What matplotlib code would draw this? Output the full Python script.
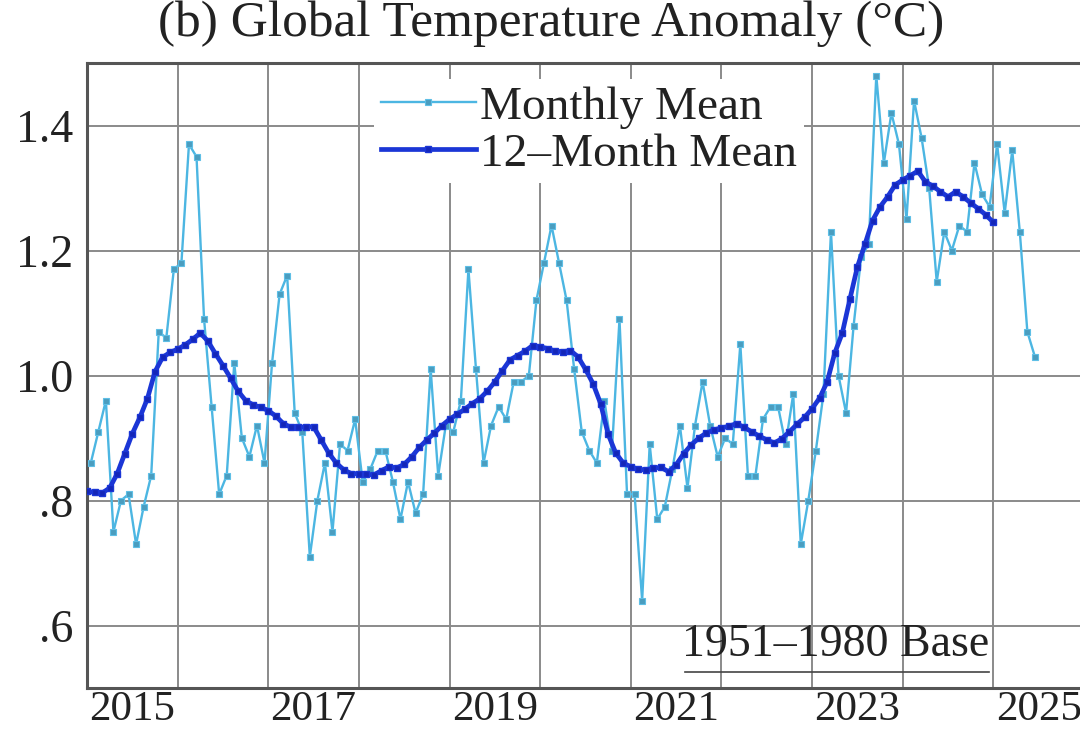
import numpy as np
import matplotlib
matplotlib.use('Agg')
import matplotlib.pyplot as plt

# Monthly global temperature anomaly (1951-1980 base), Jan 2015 - Jun 2025
monthly = [
    0.86, 0.91, 0.96, 0.75, 0.80, 0.81, 0.73, 0.79, 0.84, 1.07, 1.06, 1.17,   # 2015
    1.18, 1.37, 1.35, 1.09, 0.95, 0.81, 0.84, 1.02, 0.90, 0.87, 0.92, 0.86,   # 2016
    1.02, 1.13, 1.16, 0.94, 0.91, 0.71, 0.80, 0.86, 0.75, 0.89, 0.88, 0.93,   # 2017
    0.83, 0.85, 0.88, 0.88, 0.83, 0.77, 0.83, 0.78, 0.81, 1.01, 0.84, 0.92,   # 2018
    0.91, 0.96, 1.17, 1.01, 0.86, 0.92, 0.95, 0.93, 0.99, 0.99, 1.00, 1.12,   # 2019
    1.18, 1.24, 1.18, 1.12, 1.01, 0.91, 0.88, 0.86, 0.96, 0.88, 1.09, 0.81,   # 2020
    0.81, 0.64, 0.89, 0.77, 0.79, 0.85, 0.92, 0.82, 0.92, 0.99, 0.92, 0.87,   # 2021
    0.90, 0.89, 1.05, 0.84, 0.84, 0.93, 0.95, 0.95, 0.89, 0.97, 0.73, 0.80,   # 2022
    0.88, 0.97, 1.23, 1.00, 0.94, 1.08, 1.19, 1.21, 1.48, 1.34, 1.42, 1.37,   # 2023
    1.25, 1.44, 1.38, 1.30, 1.15, 1.23, 1.20, 1.24, 1.23, 1.34, 1.29, 1.27,   # 2024
    1.37, 1.26, 1.36, 1.23, 1.07, 1.03,                                       # 2025
]

# 12-month running mean, centred, Jan 2015 - Jan 2025
mean12 = [
    0.815, 0.813, 0.812, 0.820, 0.843, 0.875, 0.907, 0.933, 0.963, 1.006, 1.029, 1.037,
    1.042, 1.049, 1.058, 1.068, 1.055, 1.035, 1.016, 0.996, 0.975, 0.960, 0.953, 0.949,
    0.944, 0.935, 0.923, 0.917, 0.917, 0.918, 0.918, 0.897, 0.876, 0.860, 0.849, 0.843,
    0.843, 0.842, 0.841, 0.848, 0.854, 0.852, 0.858, 0.870, 0.885, 0.897, 0.908, 0.920,
    0.930, 0.938, 0.946, 0.955, 0.963, 0.975, 0.990, 1.008, 1.025, 1.032, 1.039, 1.048,
    1.046, 1.043, 1.039, 1.038, 1.040, 1.030, 1.010, 0.987, 0.955, 0.906, 0.876, 0.860,
    0.854, 0.850, 0.849, 0.852, 0.853, 0.846, 0.857, 0.875, 0.889, 0.900, 0.908, 0.913,
    0.916, 0.919, 0.923, 0.917, 0.910, 0.903, 0.897, 0.892, 0.899, 0.910, 0.922, 0.933,
    0.947, 0.964, 0.990, 1.036, 1.068, 1.122, 1.174, 1.210, 1.248, 1.270, 1.286, 1.305,
    1.313, 1.320, 1.327, 1.310, 1.303, 1.294, 1.286, 1.294, 1.286, 1.276, 1.267, 1.257,
    1.245,
]

start_year = 2015
year_labels = ['2015', '2017', '2019', '2021', '2023', '2025']
y_ticks = [0.6, 0.8, 1.0, 1.2, 1.4]
y_labels = ['.6', '.8', '1.0', '1.2', '1.4']

t_monthly = start_year + (np.arange(len(monthly)) + 0.5) / 12
t_mean = start_year + np.arange(len(mean12)) / 12

plt.rcParams['font.family'] = ['Liberation Serif', 'DejaVu Serif']

fig = plt.figure(figsize=(10.8, 7.35), dpi=100)
ax = fig.add_axes([87 / 1080, 1 - 688 / 735, (1084 - 87) / 1080, (688 - 63) / 735])

ax.plot(t_monthly, monthly, color='#4cb6e2', linewidth=1.7, marker='s', markersize=4.8,
        markerfacecolor='#4a9dbf', markeredgecolor='#5ebfe6', markeredgewidth=0.8,
        label='Monthly Mean', zorder=3)
ax.plot(t_mean, mean12, color='#1b36d6', linewidth=3.4, marker='s', markersize=4.8,
        markerfacecolor='#1426b8', markeredgecolor='#1b36d6',
        label='12\u2013Month Mean', zorder=4)

ax.set_xlim(2015, 2026)
ax.set_ylim(0.5, 1.5)

ax.set_xticks(np.arange(2015, 2027))
ax.set_xticklabels([])
ax.set_xticks([int(y) + 0.5 for y in year_labels], minor=True)
ax.set_xticklabels(year_labels, minor=True)
ax.set_yticks(y_ticks)
ax.set_yticklabels(y_labels)
ax.tick_params(axis='both', which='both', length=0, labelsize=33, colors='#222222')
ax.tick_params(axis='x', which='minor', pad=2, labelsize=31)
ax.tick_params(axis='y', pad=10)

ax.grid(True, which='major', color='#8a8a8a', linewidth=1.4)
ax.set_axisbelow(True)
for side in ['top', 'left', 'bottom', 'right']:
    ax.spines[side].set_color('#555555')
    ax.spines[side].set_linewidth(2.2)

leg = ax.legend(loc='upper left', bbox_to_anchor=(0.288, 0.975), fontsize=34,
                handlelength=2.0, handletextpad=0.1, labelspacing=0.08,
                borderpad=0.15, borderaxespad=0, frameon=True, fancybox=False)
leg.get_frame().set_edgecolor('none')
leg.get_frame().set_facecolor('white')
leg.get_frame().set_alpha(1.0)
for txt in leg.get_texts():
    txt.set_color('#222222')

ax.text(0.905, 0.035, '1951\u20131980 Base', transform=ax.transAxes, ha='right',
        va='bottom', fontsize=33, color='#222222')
ax.plot([0.6, 0.905], [0.025, 0.025], transform=ax.transAxes, color='#444444',
        linewidth=1.2, clip_on=False)

fig.text(0.51, 0.968, '(b) Global Temperature Anomaly (\u00b0C)', ha='center', va='center',
         fontsize=37, color='#222222')

fig.savefig('out.png', dpi=100)
